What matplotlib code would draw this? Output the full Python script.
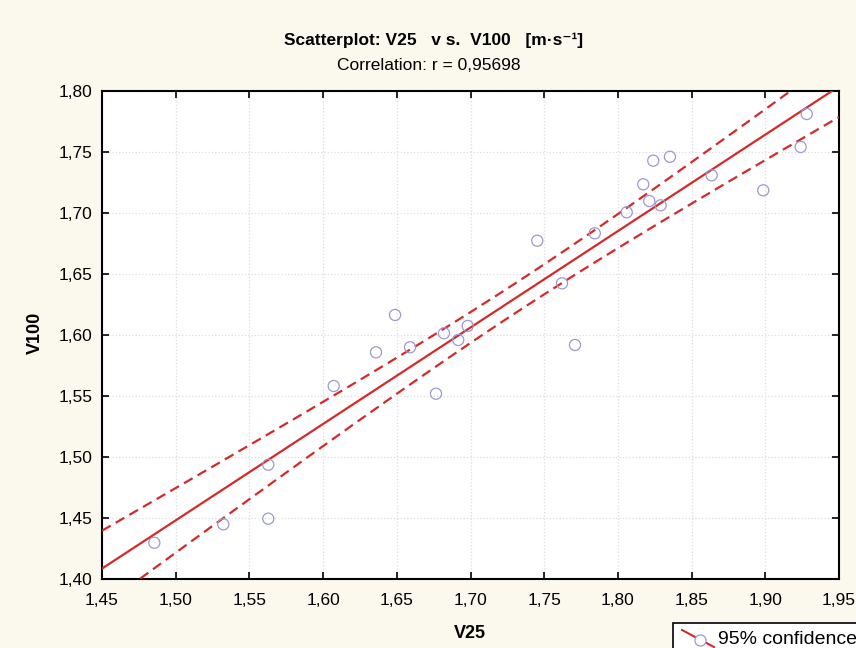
import numpy as np
import matplotlib
matplotlib.use("Agg")
import matplotlib.pyplot as plt
from matplotlib.lines import Line2D
from matplotlib.patches import Rectangle

plt.rcParams['font.family'] = ['Liberation Sans', 'DejaVu Sans']

# ---- data ----
v25 = [1.4855, 1.5323, 1.5628, 1.5628, 1.6072, 1.6359, 1.6488, 1.6590, 1.6766,
       1.6820, 1.6917, 1.6981, 1.7453, 1.7621, 1.7709, 1.7843, 1.8060, 1.8172,
       1.8213, 1.8240, 1.8290, 1.8353, 1.8636, 1.8986, 1.9240, 1.9281]
v100 = [1.4297, 1.4448, 1.4494, 1.4936, 1.5581, 1.5857, 1.6163, 1.5898, 1.5518,
        1.6013, 1.5958, 1.6073, 1.6771, 1.6422, 1.5917, 1.6832, 1.7004, 1.7233,
        1.7096, 1.7427, 1.7061, 1.7459, 1.7307, 1.7184, 1.7539, 1.7809]
xticks = [1.45, 1.50, 1.55, 1.60, 1.65, 1.70, 1.75, 1.80, 1.85, 1.90, 1.95]
xticklabels = ["1,45", "1,50", "1,55", "1,60", "1,65", "1,70", "1,75", "1,80", "1,85", "1,90", "1,95"]
yticks = [1.40, 1.45, 1.50, 1.55, 1.60, 1.65, 1.70, 1.75, 1.80]
yticklabels = ["1,40", "1,45", "1,50", "1,55", "1,60", "1,65", "1,70", "1,75", "1,80"]
title = "Scatterplot: V25   v s.  V100   [m\u00b7s\u207b\u00b9]"
subtitle = "Correlation: r = 0,95698"
xlabel = "V25"
ylabel = "V100"
legend_label = "95% confidence"
t_crit = 2.064  # t(0.975, df=24)

x = np.array(v25)
y = np.array(v100)
n = len(x)
slope, intercept = np.polyfit(x, y, 1)
xs = np.linspace(1.45, 1.95, 200)
yhat = intercept + slope * xs
resid = y - (intercept + slope * x)
s = np.sqrt(np.sum(resid ** 2) / (n - 2))
sxx = np.sum((x - x.mean()) ** 2)
half = t_crit * s * np.sqrt(1.0 / n + (xs - x.mean()) ** 2 / sxx)

cream = '#fbf8ee'
red = '#d42a2a'
mk = '#9a9ad0'
dash = (0, (4.5, 2.6))

fig = plt.figure(figsize=(8.56, 6.48), dpi=100, facecolor=cream)
ax = fig.add_axes([102 / 856, 1 - 579 / 648, (839 - 102) / 856, (579 - 90.7) / 648])
ax.set_facecolor('white')

ax.grid(True, color='#dcdcdc', linestyle=':', linewidth=0.9)
ax.set_axisbelow(True)

ax.plot(xs, yhat, color=red, lw=1.6, zorder=3)
ax.plot(xs, yhat + half, color=red, lw=1.6, ls=dash, zorder=3)
ax.plot(xs, yhat - half, color=red, lw=1.6, ls=dash, zorder=3)
ax.scatter(x, y, s=64, facecolors='none', edgecolors=mk, linewidths=0.9, zorder=4)

ax.set_xlim(1.45, 1.95)
ax.set_ylim(1.40, 1.80)
ax.set_xticks(xticks)
ax.set_xticklabels(xticklabels)
ax.set_yticks(yticks)
ax.set_yticklabels(yticklabels)
ax.tick_params(direction='in', length=5, width=1.2, labelsize=12.5, colors='black',
               top=True, right=True)
ax.tick_params(axis='x', pad=10)
ax.tick_params(axis='y', pad=7)
for sp in ax.spines.values():
    sp.set_linewidth(1.5)
    sp.set_color('black')

fig.text(470 / 856, 1 - 634 / 648, xlabel, fontsize=13, fontweight='bold',
         ha='center', va='center')
fig.text(35 / 856, 1 - 333 / 648, ylabel, fontsize=13, fontweight='bold',
         ha='center', va='center', rotation=90)
fig.text(434 / 856, 1 - 40 / 648, title, fontsize=12.5, fontweight='bold',
         ha='center', va='center')
fig.text(429 / 856, 1 - 66 / 648, subtitle, fontsize=12.5, ha='center', va='center')

# legend box (partly outside the figure, as in the reference)
fig.patches.append(Rectangle((673 / 856, 1 - 690 / 648), 300 / 856, 67 / 648,
                             transform=fig.transFigure, facecolor='white',
                             edgecolor='black', linewidth=1.2))
fig.lines.append(Line2D([682 / 856, 714 / 856], [1 - 630 / 648, 1 - 647 / 648],
                        transform=fig.transFigure, color=red, lw=1.5))
fig.lines.append(Line2D([699.5 / 856], [1 - 640 / 648], transform=fig.transFigure,
                        marker='o', markersize=8, markerfacecolor='white',
                        markeredgecolor=mk, markeredgewidth=0.9, ls='none'))
fig.text(718 / 856, 1 - 639 / 648, legend_label, fontsize=14, ha='left', va='center')

fig.savefig('out.png', dpi=100, facecolor=cream)
